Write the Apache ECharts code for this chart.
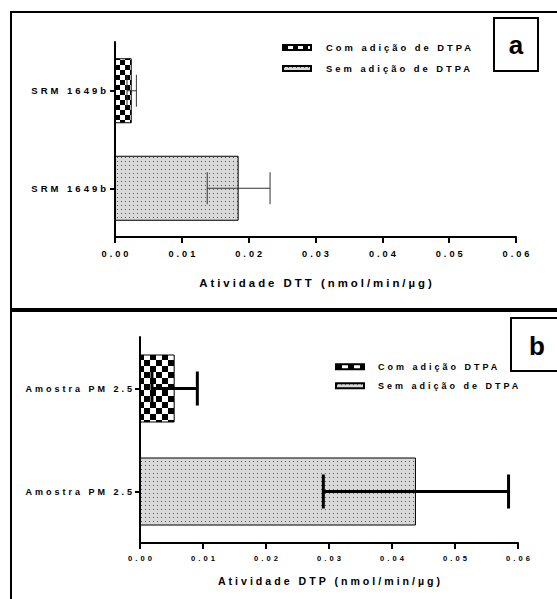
<!DOCTYPE html>
<html><head><meta charset="utf-8">
<script src="https://cdn.jsdelivr.net/npm/echarts@6/dist/echarts.min.js"></script>
<style>
html,body{margin:0;padding:0;background:#fff;}
#c{width:557px;height:599px;}
#c text{letter-spacing:3px;}
</style></head><body><div id="c"></div>
<script>
// ---- data ----
const categoriesA = ['SRM 1649b', 'SRM 1649b'];
const categoriesB = ['Amostra PM 2.5', 'Amostra PM 2.5'];
const seriesNamesA = ['Com adição de DTPA', 'Sem adição de DTPA'];
const seriesNamesB = ['Com adição DTPA', 'Sem adição de DTPA'];
const meanA = [0.0025, 0.0185];
const sdA = [0.0007, 0.0047];
const meanB = [0.0055, 0.0438];
const sdB = [0.0036, 0.0147];
const titleA = 'Atividade DTT (nmol/min/µg)';
const titleB = 'Atividade DTP (nmol/min/µg)';

const FF = '"Liberation Sans", Arial, sans-serif';

function checker(s) {
  const c = document.createElement('canvas'); c.width = c.height = 2 * s;
  const g = c.getContext('2d');
  g.fillStyle = '#fff'; g.fillRect(0, 0, 2 * s, 2 * s);
  g.fillStyle = '#000'; g.fillRect(0, 0, s, s); g.fillRect(s, s, s, s);
  return { image: c, repeat: 'repeat', imageWidth: 2 * s, imageHeight: 2 * s };
}
function dots(s) {
  const c = document.createElement('canvas'); c.width = c.height = s;
  const g = c.getContext('2d');
  g.fillStyle = '#d9d9d9'; g.fillRect(0, 0, s, s);
  g.fillStyle = '#555'; g.fillRect(1, 1, 1, 1);
  return { image: c, repeat: 'repeat', imageWidth: s, imageHeight: s };
}
const patA = [checker(5), dots(4)];
const patB = [checker(6), dots(4)];

function barSeries(names, pats, mean, xi, bw) {
  return names.map((n, k) => ({
    type: 'bar', name: n, xAxisIndex: xi, yAxisIndex: xi,
    barWidth: bw, barGap: '-100%',
    itemStyle: { color: pats[k], borderColor: '#000', borderWidth: 1 },
    data: mean.map((v, i) => (i === k ? v : '-')),
    silent: true
  }));
}
function errSeries(mean, sd, xi, lw, color, cap) {
  return {
    type: 'custom', name: 'err' + xi, xAxisIndex: xi, yAxisIndex: xi, z: 5, silent: true,
    data: mean.map((m, i) => [i, m - sd[i], m + sd[i]]),
    encode: { y: 0, x: [1, 2] },
    renderItem(params, api) {
      const c = api.value(0);
      const lo = api.coord([api.value(1), c]);
      const hi = api.coord([api.value(2), c]);
      const y = lo[1];
      const st = { stroke: color, lineWidth: lw };
      return { type: 'group', children: [
        { type: 'line', shape: { x1: lo[0], y1: y, x2: hi[0], y2: y }, style: st },
        { type: 'line', shape: { x1: lo[0], y1: y - cap, x2: lo[0], y2: y + cap }, style: st },
        { type: 'line', shape: { x1: hi[0], y1: y - cap, x2: hi[0], y2: y + cap }, style: st }
      ] };
    }
  };
}
function xAx(gi, name, fs, tfs, gap, margin) {
  return {
    gridIndex: gi, type: 'value', min: 0, max: 0.06, interval: 0.01,
    splitLine: { show: false },
    axisLine: { show: true, lineStyle: { color: '#000', width: 2 } },
    axisTick: { show: true, length: 6, lineStyle: { color: '#000', width: 2 } },
    axisLabel: { formatter: v => v.toFixed(2), fontSize: fs, fontWeight: 'bold', color: '#000', fontFamily: FF, margin: margin, padding: [0, 0, 0, 3] },
    name: name, nameLocation: 'middle', nameGap: gap,
    nameTextStyle: { fontSize: tfs, fontWeight: 'bold', color: '#000', fontFamily: FF, verticalAlign: 'middle', padding: [0, 0, 0, 3] }
  };
}
function yAx(gi, cats, fs, margin) {
  return {
    gridIndex: gi, type: 'category', inverse: true, data: cats,
    axisLine: { show: true, lineStyle: { color: '#000', width: 2 } },
    axisTick: { show: true, alignWithLabel: true, length: 5, lineStyle: { color: '#000', width: 2 } },
    axisLabel: { fontSize: fs, fontWeight: 'bold', color: '#000', fontFamily: FF, margin: margin },
    splitLine: { show: false }
  };
}
function leg(names, left, top, fs, gap, pad) {
  return {
    data: names, left: left, top: top, orient: 'vertical', itemWidth: 28, itemHeight: 5,
    itemGap: gap, padding: 0, icon: 'rect', selectedMode: false,
    textStyle: { fontSize: fs, fontWeight: 'bold', color: '#000', fontFamily: FF, lineHeight: 12, padding: [0, 0, 0, pad] }
  };
}

const chart = echarts.init(document.getElementById('c'), null, { renderer: 'svg' });
chart.setOption({
  animation: false,
  backgroundColor: '#fff',
  grid: [
    { left: 115, top: 42, width: 401, height: 195 },
    { left: 140, top: 337, width: 378, height: 206 }
  ],
  xAxis: [xAx(0, titleA, 9.2, 11.4, 46, 12), xAx(1, titleB, 7.6, 10.6, 38, 11)],
  yAxis: [yAx(0, categoriesA, 9.5, 6), yAx(1, categoriesB, 9, 5)],
  legend: [leg(seriesNamesA, 282, 41.5, 9.4, 9, 10), leg(seriesNamesB, 335, 360.7, 9, 7, 9)],
  series: [
    ...barSeries(seriesNamesA, patA, meanA, 0, 65),
    ...barSeries(seriesNamesB, patB, meanB, 1, 68),
    errSeries(meanA, sdA, 0, 1, '#333', 16),
    errSeries(meanB, sdB, 1, 3, '#000', 17)
  ],
  graphic: [
    { type: 'rect', silent: true, shape: { x: 11, y: 12, width: 570, height: 297 }, style: { fill: 'none', stroke: '#000', lineWidth: 2 } },
    { type: 'rect', silent: true, shape: { x: 11, y: 311, width: 570, height: 300 }, style: { fill: 'none', stroke: '#000', lineWidth: 2 } },
    { type: 'rect', silent: true, shape: { x: 494, y: 18, width: 44, height: 53 }, style: { fill: '#fff', stroke: '#000', lineWidth: 2 } },
    { type: 'text', silent: true, x: 517.5, y: 45, style: { text: 'a', font: 'bold 26px "Liberation Sans", Arial', fill: '#000', align: 'center', verticalAlign: 'middle' } },
    { type: 'rect', silent: true, shape: { x: 511, y: 318, width: 60, height: 53 }, style: { fill: '#fff', stroke: '#000', lineWidth: 2 } },
    { type: 'text', silent: true, x: 538.5, y: 346, style: { text: 'b', font: 'bold 26px "Liberation Sans", Arial', fill: '#000', align: 'center', verticalAlign: 'middle' } }
  ]
});
</script></body></html>
